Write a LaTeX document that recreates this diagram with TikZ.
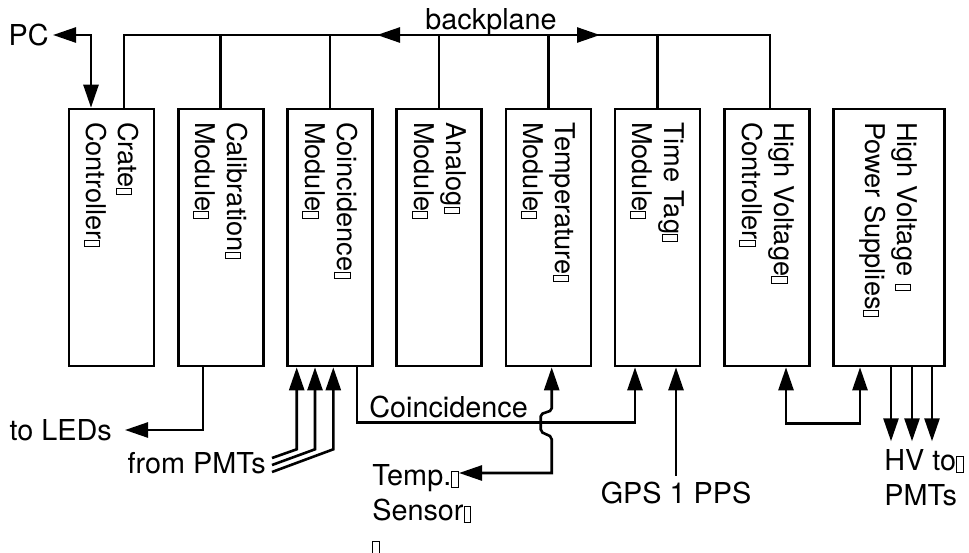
\documentclass[tikz,border=0pt]{standalone}
\usepackage{fontspec}
\setmainfont{TeX Gyre Heros}
\usetikzlibrary{arrows.meta,positioning}

% empty glyph box closing each label line
\newcommand{\eol}{\raisebox{-0.06em}{\fboxsep=0pt\fboxrule=0.5pt\fbox{\rule{0pt}{0.52em}\hspace{0.2em}}}}

\begin{document}
\begin{tikzpicture}[x=0.5pt,y=-0.5pt,line width=1.3pt,
                    >={Triangle[length=11.5pt,width=7.5pt]},node distance=10.8pt]
	  \tikzset{module/.style={draw,minimum width=42.5pt,minimum height=128.5pt,inner sep=0pt},
	           modtext/.style={rotate=-90,anchor=west,align=left,inner sep=0pt,
	                           font=\fontsize{13.6}{16}\selectfont},
	           lbl/.style={inner sep=0pt,align=left,font=\fontsize{14.4}{17.5}\selectfont}}
	  \useasboundingbox (0,0) rectangle (969,552);

	  % crate modules
	  \node[module] (crate) at (111.5,237.5) {};
	  \node[module] (calib)  [right=of crate]  {};
	  \node[module] (coinc)  [right=of calib]  {};
	  \node[module] (analog) [right=of coinc]  {};
	  \node[module] (temp)   [right=of analog] {};
	  \node[module] (time)   [right=of temp]   {};
	  \node[module] (hvctl)  [right=of time]   {};
	  \node[module,minimum width=55.5pt] (hvps) [right=of hvctl] {};

	  \node[modtext] (crate-t)  at ([yshift=-6.5pt]crate.north)  {Crate\eol\\Controller\eol};
	  \node[modtext] (calib-t)  at ([yshift=-6.5pt]calib.north)  {Calibration\eol\\Module\eol};
	  \node[modtext] (coinc-t)  at ([yshift=-6.5pt]coinc.north)  {Coincidence\eol\\Module\eol};
	  \node[modtext] (analog-t) at ([yshift=-6.5pt]analog.north) {Analog\eol\\Module\eol};
	  \node[modtext] (temp-t)   at ([yshift=-6.5pt]temp.north)   {Temperature\eol\\Module\eol};
	  \node[modtext] (time-t)   at ([yshift=-6.5pt]time.north)   {Time Tag\eol\\Module\eol};
	  \node[modtext] (hvctl-t)  at ([yshift=-6.5pt]hvctl.north)  {High Voltage\eol\\Controller\eol};
	  \node[modtext] (hvps-t)   at ([yshift=-6.5pt]hvps.north)   {High Voltage \eol\\Power Supplies\eol};

	  % backplane
	  \coordinate (bp) at (0,35);
	  \coordinate (cr-top) at ([xshift=6.25pt]crate.north);
	  \coordinate (hv-top) at ([xshift=1.65pt]hvctl.north);
	  \draw (cr-top) |- (hv-top |- bp) -- (hv-top);
	  \foreach \m in {calib,coinc,analog,temp,time}
	    \draw (\m.north) -- (\m.north |- bp);
	  \node[lbl] (bplane) at (491,22.5) {backplane};
	  \coordinate (bp-w) at (377,35);
	  \coordinate (bp-e) at (600,35);
	  \draw[<->] (bp-w) -- (bp-e);

	  \node[lbl,anchor=east] (pc) at (50,35) {PC};
	  \draw[<->] ([xshift=1.5pt]pc.east) -| ([xshift=-10.25pt]crate.north);

	  % calibration out
	  \node[lbl,anchor=east] (leds) at (113,430) {to LEDs};
	  \draw[->] ([xshift=-8.85pt]calib.south) |- ([xshift=6pt]leds.east);

	  % PMT inputs
	  \node[lbl,anchor=east] (pmts) at (267,463) {from PMTs};
	  \foreach \dx/\dy in {-16.6/2.5,-7.45/-1,1.7/-4.5}
	    \draw[<-] ([xshift=\dx pt]coinc.south) -- ++(0,82) -- ([xshift=2.5pt,yshift=\dy pt]pmts.east);

	  % coincidence to time tag
	  \draw[->] ([xshift=13.55pt]coinc.south) -- ++(0,55) -| ([xshift=-11.25pt]time.south);
	  \node[lbl,anchor=west] (coinc-l) at (368,406.5) {Coincidence};

	  % temperature sensor, hopping over the coincidence line
	  \node[lbl,anchor=north west] (sensor) at (371,463) {Temp.\eol\\Sensor\eol\\\eol};
	  \coordinate (t-tip) at (459,473);
	  \draw[<->] (t-tip) -| ([xshift=1.7pt,yshift=-36pt]temp.south)
	      .. controls +(0,-6) and +(0,6) .. ++(-11,-10) -- ++(0,-13)
	      .. controls +(0,-5) and +(0,5) .. ++(11,-8) -- ([xshift=1.7pt]temp.south);

	  % GPS
	  \node[lbl] (gps) at (676,493) {GPS 1 PPS};
	  \draw[->] ([yshift=2.5pt]gps.north) -- (gps.north |- time.south);

	  % high voltage
	  \draw[<->] ([xshift=9.65pt]hvctl.south) -- ++(0,56) -| ([xshift=-14.45pt]hvps.south);
	  \foreach \dx in {1.05,11.55,21.55}
	    \draw[->] ([xshift=\dx pt]hvps.south) -- ++(0,74);
	  \node[lbl,anchor=north west] (hvpmt) at (883,448) {HV to\eol\\PMTs};
\end{tikzpicture}
\end{document}
